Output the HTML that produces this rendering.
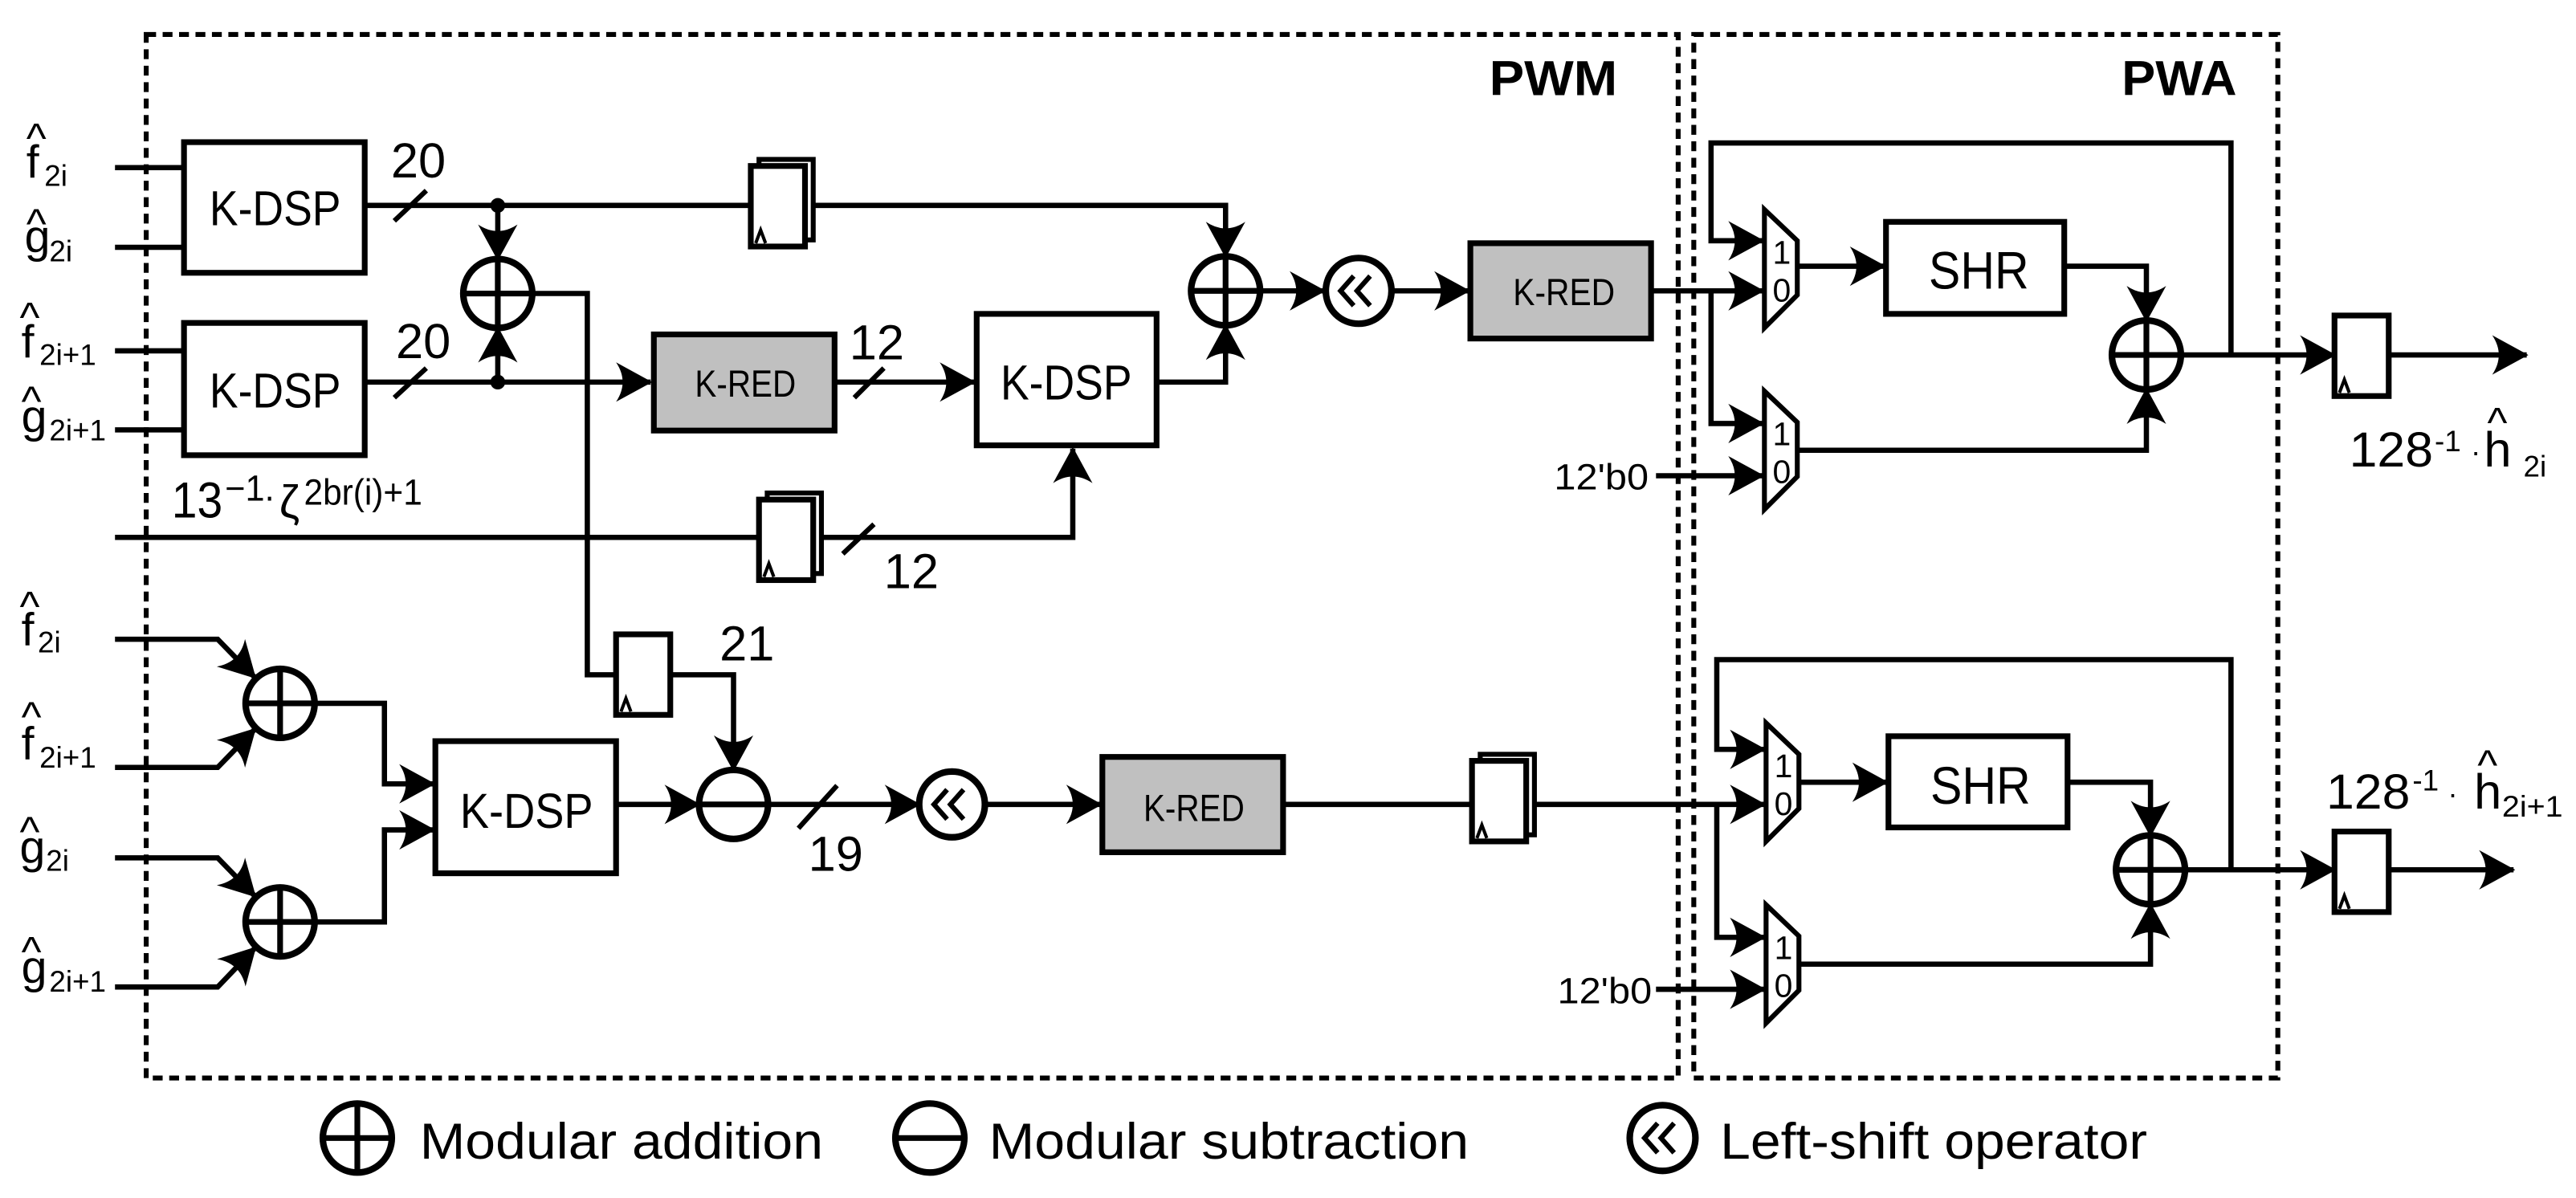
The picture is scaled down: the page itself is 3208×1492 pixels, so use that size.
<!DOCTYPE html>
<html><head><meta charset="utf-8"><style>
html,body{margin:0;padding:0;background:#fff;}
svg{display:block;}
text{font-family:"Liberation Sans",sans-serif;fill:#000;}
</style></head><body>
<svg width="3208" height="1492" viewBox="0 0 1568 729" preserveAspectRatio="none" xmlns="http://www.w3.org/2000/svg">
<defs>
<marker id="a" viewBox="0 0 22 24" refX="21" refY="12" markerWidth="22" markerHeight="24" markerUnits="userSpaceOnUse" orient="auto" overflow="visible">
<path d="M0,0 L22,12 L0,24 Q8,12 0,0 Z" fill="#000"/>
</marker>
<g id="reg"><rect x="0" y="0" width="33" height="49" fill="#fff" stroke="#000" stroke-width="3.5"/><path d="M3,47 L6,39 L9,47" fill="none" stroke="#000" stroke-width="2"/></g>
<g id="reg2"><rect x="5" y="-4" width="33" height="49" fill="#fff" stroke="#000" stroke-width="3"/><rect x="0" y="0" width="33" height="49" fill="#fff" stroke="#000" stroke-width="3.5"/><path d="M3,47 L6,39 L9,47" fill="none" stroke="#000" stroke-width="2"/></g>
<g id="plus"><circle cx="0" cy="0" r="21" fill="#fff" stroke="#000" stroke-width="4"/><path d="M-21,0 H21 M0,-21 V21" stroke="#000" stroke-width="3.5"/></g>
<g id="minus"><circle cx="0" cy="0" r="21" fill="#fff" stroke="#000" stroke-width="4"/><path d="M-21,0 H21" stroke="#000" stroke-width="3.5"/></g>
<g id="shl"><circle cx="0" cy="0" r="20" fill="#fff" stroke="#000" stroke-width="4"/><path d="M-3,-9 L-11,0 L-3,9 M7,-9 L-1,0 L7,9" fill="none" stroke="#000" stroke-width="3"/></g>
<g id="mux"><path d="M0,0 L20,19 L20,52 L0,72 Z" fill="#fff" stroke="#000" stroke-width="3"/><text x="5" y="33" font-size="20">1</text><text x="5" y="56" font-size="20">0</text></g>
</defs>

<!-- dotted boxes -->
<g fill="none" stroke="#000" stroke-width="3" stroke-dasharray="6,4">
<path d="M89,21 H1021.5 V656 H89 Z"/>
<path d="M1031,21 H1386.5 V656 H1031 Z"/>
</g>
<text x="906.5" y="58" font-size="30" font-weight="bold" textLength="78" lengthAdjust="spacingAndGlyphs">PWM</text>
<text x="1291.5" y="58" font-size="30" font-weight="bold" textLength="70" lengthAdjust="spacingAndGlyphs">PWA</text>

<g stroke="#000" stroke-width="3.2" fill="none">
<path d="M70,102 H112 M70,150.5 H112 M70,213.5 H112 M70,261.6 H112"/>
<path d="M222,125 H746 V156" marker-end="url(#a)"/>
<path d="M303,125 V157.6" marker-end="url(#a)"/>
<path d="M222,232.5 H396" marker-end="url(#a)"/>
<path d="M303,232.5 V199.6" marker-end="url(#a)"/>
<path d="M324,178.6 H357.5 V410.6 H375"/>
<path d="M407.5,410.6 H446.5 V468.5" marker-end="url(#a)"/>
<path d="M508,232.5 H593" marker-end="url(#a)"/>
<path d="M704,232.5 H746 V198" marker-end="url(#a)"/>
<path d="M70,327 H653 V273" marker-end="url(#a)"/>
<path d="M767,177 H806" marker-end="url(#a)"/>
<path d="M847,177 H894" marker-end="url(#a)"/>
<path d="M1005,177 H1073" marker-end="url(#a)"/>
<path d="M1041.5,177 V257.7 H1073" marker-end="url(#a)"/>
<path d="M1358,216 V87 H1041.5 V146.5 H1073" marker-end="url(#a)"/>
<path d="M1008,289.5 H1073" marker-end="url(#a)"/>
<path d="M1094,162 H1147" marker-end="url(#a)"/>
<path d="M1256.5,162 H1306.5 V195" marker-end="url(#a)"/>
<path d="M1094,274 H1306.5 V237" marker-end="url(#a)"/>
<path d="M1327.5,216 H1421" marker-end="url(#a)"/>
<path d="M1454,216 H1538" marker-end="url(#a)"/>
<!-- bottom -->
<path d="M70,389 H132.5 L155.2,412.3" marker-end="url(#a)"/>
<path d="M70,467 H132.5 L155.2,443.7" marker-end="url(#a)"/>
<path d="M70,522 H132.5 L155.2,545.3" marker-end="url(#a)"/>
<path d="M70,600.6 H132.5 L155.3,576.8" marker-end="url(#a)"/>
<path d="M191.5,428 H234 V477 H264" marker-end="url(#a)"/>
<path d="M191.5,561 H234 V505 H264" marker-end="url(#a)"/>
<path d="M375,489.5 H425.5" marker-end="url(#a)"/>
<path d="M467.5,489.5 H559.5" marker-end="url(#a)"/>
<path d="M599.5,489.5 H670" marker-end="url(#a)"/>
<path d="M781,489.5 H896"/>
<path d="M933.5,489.5 H1074" marker-end="url(#a)"/>
<path d="M1045,489.5 V570.4 H1074" marker-end="url(#a)"/>
<path d="M1358,529.3 V401.4 H1045 V456 H1074" marker-end="url(#a)"/>
<path d="M1008,602 H1074" marker-end="url(#a)"/>
<path d="M1095,476 H1148.5" marker-end="url(#a)"/>
<path d="M1258.5,476 H1309 V508.3" marker-end="url(#a)"/>
<path d="M1095,586.7 H1309 V550.3" marker-end="url(#a)"/>
<path d="M1330,529.3 H1421" marker-end="url(#a)"/>
<path d="M1454,529.3 H1530" marker-end="url(#a)"/>
<!-- slashes -->
<path d="M240,134.4 L259.5,116 M240,242 L259.5,224 M520,242 L538,224 M513,337 L532,319 M486,504 L509.5,478" stroke-width="3"/>
</g>
<circle cx="303" cy="125" r="4.5" fill="#000"/>
<circle cx="303" cy="232.5" r="4.5" fill="#000"/>

<!-- boxes -->
<g stroke="#000" stroke-width="3.5">
<rect x="112" y="86.5" width="110" height="79.5" fill="#fff"/>
<rect x="112" y="196.5" width="110" height="80.5" fill="#fff"/>
<rect x="398" y="203.5" width="110" height="58.5" fill="#c0c0c0"/>
<rect x="594.5" y="191" width="109.5" height="80" fill="#fff"/>
<rect x="895" y="148" width="110" height="58" fill="#c0c0c0"/>
<rect x="1148" y="135" width="108.5" height="56" fill="#fff"/>
<rect x="265" y="451" width="110" height="80.4" fill="#fff"/>
<rect x="671" y="460.6" width="110" height="58" fill="#c0c0c0"/>
<rect x="1149.5" y="448" width="109" height="55.5" fill="#fff"/>
</g>
<g font-size="30">
<text x="127.5" y="137" textLength="80" lengthAdjust="spacingAndGlyphs">K-DSP</text>
<text x="127.5" y="248" textLength="80" lengthAdjust="spacingAndGlyphs">K-DSP</text>
<text x="609" y="243" textLength="80" lengthAdjust="spacingAndGlyphs">K-DSP</text>
<text x="280" y="503.7" textLength="81" lengthAdjust="spacingAndGlyphs">K-DSP</text>
<text x="1174" y="175.6" font-size="32" textLength="61" lengthAdjust="spacingAndGlyphs">SHR</text>
<text x="1175" y="489" font-size="32" textLength="61" lengthAdjust="spacingAndGlyphs">SHR</text>
</g>
<g font-size="23">
<text x="423" y="241.4" textLength="61.5" lengthAdjust="spacingAndGlyphs">K-RED</text>
<text x="921" y="185.6" textLength="62" lengthAdjust="spacingAndGlyphs">K-RED</text>
<text x="696" y="499.5" textLength="61.5" lengthAdjust="spacingAndGlyphs">K-RED</text>
</g>

<use href="#reg2" x="457" y="101"/>
<use href="#reg2" x="462" y="304"/>
<use href="#reg" x="375" y="386"/>
<use href="#reg2" x="896" y="463"/>
<use href="#reg" x="1421" y="192"/>
<use href="#reg" x="1421" y="506"/>

<use href="#plus" x="303" y="178.6"/>
<use href="#plus" x="746" y="177"/>
<use href="#plus" x="170.5" y="428"/>
<use href="#plus" x="170.5" y="561"/>
<use href="#plus" x="1306.5" y="216"/>
<use href="#plus" x="1309" y="529.3"/>
<use href="#minus" x="446.5" y="489.5"/>
<use href="#shl" x="827" y="177"/>
<use href="#shl" x="579.5" y="489.5"/>
<use href="#mux" x="1074" y="127.5"/>
<use href="#mux" x="1074" y="238"/>
<use href="#mux" x="1075" y="440"/>
<use href="#mux" x="1075" y="550.6"/>

<!-- number labels -->
<g font-size="30">
<text x="238" y="108">20</text>
<text x="241" y="218">20</text>
<text x="517" y="218.6">12</text>
<text x="538" y="358">12</text>
<text x="438" y="402">21</text>
<text x="492" y="530">19</text>
<text x="104.5" y="315" font-size="31" textLength="31" lengthAdjust="spacingAndGlyphs">13</text>
<text x="137" y="304.6" font-size="22" textLength="30" lengthAdjust="spacingAndGlyphs">−1.</text>
<text x="170" y="315" font-size="28">ζ</text>
<text x="185" y="307" font-size="22" textLength="72" lengthAdjust="spacingAndGlyphs">2br(i)+1</text>
</g>
<g font-size="22">
<text x="946" y="297.7" textLength="57.5" lengthAdjust="spacingAndGlyphs">12'b0</text>
<text x="948" y="610.6" textLength="57.5" lengthAdjust="spacingAndGlyphs">12'b0</text>
</g>
<!-- output labels -->
<text x="1430" y="284" font-size="30" textLength="51" lengthAdjust="spacingAndGlyphs">128</text>
<text x="1482" y="274.5" font-size="18">-1</text>
<text x="1504" y="281" font-size="18">·</text>
<text x="1512" y="284" font-size="30">h</text>
<text x="1536" y="290" font-size="18">2i</text>
<text x="1514" y="266" font-size="26">^</text>
<text x="1416" y="492" font-size="30" textLength="51" lengthAdjust="spacingAndGlyphs">128</text>
<text x="1468.5" y="481" font-size="18">-1</text>
<text x="1490" y="489" font-size="18">·</text>
<text x="1506" y="492" font-size="30">h</text>
<text x="1523" y="497" font-size="18" textLength="37" lengthAdjust="spacingAndGlyphs">2i+1</text>
<text x="1508" y="474.5" font-size="26">^</text>

<!-- input labels -->
<g font-size="28">
<text x="16" y="108">f</text><text x="27" y="113" font-size="18">2i</text>
<text x="15" y="153.5">g</text><text x="30" y="159" font-size="18">2i</text>
<text x="13" y="217.4">f</text><text x="24" y="222" font-size="18">2i+1</text>
<text x="13" y="262.8">g</text><text x="30" y="268" font-size="18">2i+1</text>
<text x="13" y="392.5">f</text><text x="23" y="397" font-size="18">2i</text>
<text x="13" y="462">f</text><text x="24" y="467" font-size="18">2i+1</text>
<text x="12" y="525">g</text><text x="28" y="530" font-size="18">2i</text>
<text x="13" y="598">g</text><text x="30" y="603.5" font-size="18">2i+1</text>
</g>
<g font-size="26">
<text x="16" y="93">^</text>
<text x="16" y="145">^</text>
<text x="12" y="202">^</text>
<text x="13" y="253">^</text>
<text x="12" y="378">^</text>
<text x="13" y="445">^</text>
<text x="12" y="515">^</text>
<text x="13" y="588">^</text>
</g>

<!-- legend -->
<use href="#plus" x="217.5" y="692.5"/>
<text x="255.5" y="705" font-size="31" textLength="245.5" lengthAdjust="spacingAndGlyphs">Modular addition</text>
<use href="#minus" x="566" y="692.5"/>
<text x="602" y="705" font-size="31" textLength="292" lengthAdjust="spacingAndGlyphs">Modular subtraction</text>
<use href="#shl" x="1012" y="692.5"/>
<text x="1047" y="705" font-size="31" textLength="260" lengthAdjust="spacingAndGlyphs">Left-shift operator</text>
</svg>
</body></html>
